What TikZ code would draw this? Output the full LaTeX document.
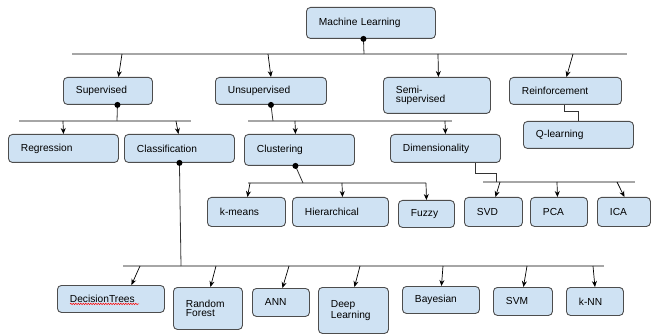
\documentclass[tikz,border=0pt]{standalone}
\usepackage{fontspec}
\setmainfont{Liberation Sans}
\usetikzlibrary{arrows.meta,decorations.pathmorphing}

\definecolor{boxfill}{HTML}{CFE2F3}
\definecolor{boxline}{HTML}{4D4D4D}
\definecolor{busline}{HTML}{A6A6A6}

\begin{document}
\begin{tikzpicture}[x=1pt,y=-1pt,
    box/.style={draw=boxline,fill=boxfill,line width=0.9pt,rounded corners=4pt,
        anchor=north west,align=left,inner xsep=12.5pt,inner ysep=0pt,
        font=\fontsize{10.2}{9.5}\selectfont},
    bus/.style={draw=busline,line width=1.4pt},
    tap/.style={draw=black!80,line width=0.8pt},
    arr/.style={draw=black,line width=0.7pt,-{Stealth[length=6pt,width=5pt]}},
    knob/.style={fill=black}]
\useasboundingbox (0,0) rectangle (651,334);

\node[box,text width=104,minimum height=31](ml) at (306,7){Machine Learning};

\node[box,text width=64,minimum height=27](sup) at (63,77){Supervised};
\node[box,text width=86,minimum height=27](uns) at (215,77){Unsupervised};
\node[box,text width=82,minimum height=36](semi) at (383,77){Semi-\\supervised};
\node[box,text width=87,minimum height=27](rei) at (509,77){Reinforcement};
\node[box,text width=85,minimum height=27](ql) at (523,121){Q-learning};

\node[box,text width=85,minimum height=28](reg) at (8,134){Regression};
\node[box,text width=85,minimum height=28](cla) at (124,134){Classification};
\node[box,text width=85,minimum height=31](clu) at (244,134){Clustering};
\node[box,text width=85,minimum height=28](dim) at (390,134){Dimensionality};

\node[box,text width=53,minimum height=29](kme) at (207,197){k-means};
\node[box,text width=71,minimum height=29](hie) at (292,197){Hierarchical};
\node[box,text width=31,minimum height=27](fuz) at (398,200){Fuzzy};
\node[box,text width=33,minimum height=29](svd) at (464,197){SVD};
\node[box,text width=32,minimum height=29](pca) at (530,197){PCA};
\node[box,text width=28,minimum height=29](ica) at (597,197){ICA};

\node[box,text width=82,minimum height=27](dt) at (57,285){DecisionTrees};
\node[box,text width=44,minimum height=42](rf) at (173,287){Random\\Forest};
\node[box,text width=32,minimum height=28](ann) at (252,288){ANN};
\node[box,text width=45,minimum height=46](dl) at (318,287){Deep\\Learning};
\node[box,text width=52,minimum height=27](bay) at (402,286){Bayesian};
\node[box,text width=34,minimum height=28](svm) at (493,287){SVM};
\node[box,text width=32,minimum height=28](knn) at (566,287){k-NN};

\draw[red,line width=0.5pt,decorate,decoration={snake,amplitude=0.7pt,segment length=2.5pt}]
    ([xshift=13,yshift=-5]dt.west) -- ++(69,0);

% buses
\coordinate (b1w) at (72,54); \coordinate (b1e) at (627,54);
\coordinate (b2w) at (19,121); \coordinate (b2e) at (191,121);
\coordinate (b3w) at (248,121); \coordinate (b3e) at (452,121);
\coordinate (b4w) at (248,183); \coordinate (b4e) at (426,183);
\coordinate (b5w) at (123,266); \coordinate (b5e) at (604,266);
\coordinate (b6w) at (483,182); \coordinate (b6e) at (635,182);
\draw[bus](b1w)--(b1e);
\draw[bus](b2w)--(b2e);
\draw[bus](b3w)--(b3e);
\draw[bus](b4w)--(b4e);
\draw[bus](b5w)--(b5e);
\draw[bus](b6w)--(b6e);

% knobs and their stems
\coordinate (mlk) at ([xshift=-7.5]ml.south); \coordinate (mlj) at (364,54);
\coordinate (supk) at ([xshift=9.5]sup.south); \coordinate (supj) at (117,121);
\coordinate (unsk) at (uns.south); \coordinate (unsj) at (273,121);
\coordinate (clak) at (cla.south); \coordinate (claj) at (181,266);
\coordinate (cluk) at ([xshift=-4]clu.south); \coordinate (cluj) at (303,183);
\draw[tap](mlk)--(mlj);
\draw[tap](supk)--(supj);
\draw[tap](unsk)--(unsj);
\draw[tap](clak)--(claj);
\draw[tap](cluk)--(cluj);
\fill[knob](mlk) circle (3);
\fill[knob](supk) circle (3);
\fill[knob](unsk) circle (3);
\fill[knob](clak) circle (3);
\fill[knob](cluk) circle (3);

% elbows
\coordinate (reij) at (578,121);
\draw[tap]([xshift=-1]rei.south)--++(0,7)-|(reij);
\coordinate (dimj) at (496,182);
\draw[tap]([xshift=30]dim.south)--++(0,11)-|(dimj);

% arrows
\coordinate (t1) at (122,54); \coordinate (t2) at (268,54);
\coordinate (t3) at (438,54); \coordinate (t4) at (573,54);
\draw[arr](t1)--([xshift=10.5]sup.north);
\draw[arr](t2)--(uns.north);
\draw[arr](t3)--([xshift=1.5]semi.north);
\draw[arr](t4)--([xshift=1]rei.north);

\coordinate (t5) at (63,121); \coordinate (t6) at (176,121);
\coordinate (t7) at (295,121); \coordinate (t8) at (445,121);
\draw[arr](t5)--(reg.north);
\draw[arr](t6)--([xshift=-1]cla.north);
\draw[arr](t7)--([xshift=-4]clu.north);
\draw[arr](t8)--(dim.north);

\coordinate (t9) at (250,183); \coordinate (t10) at (342,183);
\coordinate (t11) at (426,183);
\draw[arr](t9)--([xshift=1]kme.north);
\draw[arr](t10)--([xshift=2]hie.north);
\draw[arr](t11)--(fuz.north);

\coordinate (t12) at (500,182); \coordinate (t13) at (557,182);
\coordinate (t14) at (617,182);
\draw[arr](t12)--([xshift=2]svd.north);
\draw[arr](t13)--([xshift=-1.5]pca.north);
\draw[arr](t14)--([xshift=0.5]ica.north);

\coordinate (t15) at (140,266); \coordinate (t16) at (216,266);
\coordinate (t17) at (289,266); \coordinate (t18) at (360,266);
\coordinate (t19) at (443,266); \coordinate (t20) at (527,266);
\coordinate (t21) at (593,266);
\draw[arr](t15)--([xshift=20.5]dt.north);
\draw[arr](t16)--([xshift=2.5]rf.north);
\draw[arr](t17)--([xshift=1.5]ann.north);
\draw[arr](t18)--([xshift=1]dl.north);
\draw[arr](t19)--([xshift=0.5]bay.north);
\draw[arr](t20)--([xshift=0.5]svm.north);
\draw[arr](t21)--(knn.north);
\end{tikzpicture}
\end{document}
